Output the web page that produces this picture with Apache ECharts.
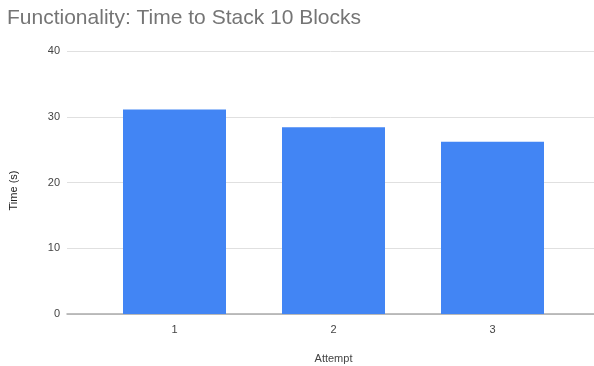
<!DOCTYPE html>
<html>
<head>
<meta charset="utf-8">
<script src="https://cdn.jsdelivr.net/npm/echarts@6/dist/echarts.min.js"></script>
<style>
  html, body { margin: 0; padding: 0; background: #fff; }
  #chart { width: 594px; height: 366px; }
</style>
</head>
<body>
<div id="chart"></div>
<script>
// Chart content
const titleText = 'Functionality: Time to Stack 10 Blocks';
const attempts = ['1', '2', '3'];
const timesSec = [31.1, 28.4, 26.2];
const yTicks = [0, 10, 20, 30, 40];
const yName = 'Time (s)';
const xName = 'Attempt';

const yMin = yTicks[0];
const yMax = yTicks[yTicks.length - 1];
const yStep = yTicks[1] - yTicks[0];

const chart = echarts.init(document.getElementById('chart'), null, { renderer: 'canvas' });

chart.setOption({
  animation: false,
  backgroundColor: '#ffffff',
  textStyle: { fontFamily: 'Liberation Sans, Arial, sans-serif' },
  title: {
    text: titleText,
    left: 2,
    top: 3,
    textStyle: { color: '#757575', fontSize: 21, fontWeight: 'normal', fontFamily: 'Liberation Sans, Arial, sans-serif' }
  },
  grid: [
    // full-width area: gridlines, baseline and value labels
    { left: 67, right: 0, top: 51, bottom: 52, outerBoundsMode: 'none' },
    // inset area holding the bars and category labels
    { left: 95, right: 22, top: 51, bottom: 52, outerBoundsMode: 'none' }
  ],
  xAxis: [
    {
      gridIndex: 0,
      type: 'category',
      data: attempts,
      axisLine: { show: true, lineStyle: { color: '#aaaaaa', width: 1.5 } },
      axisTick: { show: false },
      axisLabel: { show: false },
      splitLine: { show: false }
    },
    {
      gridIndex: 1,
      type: 'category',
      data: attempts,
      name: xName,
      nameLocation: 'middle',
      nameGap: 39,
      nameTextStyle: { color: '#444444', fontSize: 11 },
      axisLine: { show: false },
      axisTick: { show: false },
      axisLabel: { color: '#444444', fontSize: 11, margin: 10 }
    }
  ],
  yAxis: [
    {
      gridIndex: 0,
      type: 'value',
      min: yMin,
      max: yMax,
      interval: yStep,
      name: yName,
      nameLocation: 'middle',
      nameGap: 48,
      nameRotate: 90,
      nameTextStyle: { color: '#222222', fontSize: 11, padding: [0, 16, 0, 0] },
      axisLine: { show: false },
      axisTick: { show: false },
      axisLabel: { color: '#444444', fontSize: 11, margin: 7 },
      splitLine: { lineStyle: { color: '#e0e0e0', width: 1 } }
    },
    {
      gridIndex: 1,
      type: 'value',
      min: yMin,
      max: yMax,
      interval: yStep,
      show: false,
      splitLine: { show: false }
    }
  ],
  series: [
    {
      type: 'bar',
      xAxisIndex: 1,
      yAxisIndex: 1,
      data: timesSec,
      barWidth: 103,
      itemStyle: { color: '#4285f4' }
    }
  ]
});
</script>
</body>
</html>
